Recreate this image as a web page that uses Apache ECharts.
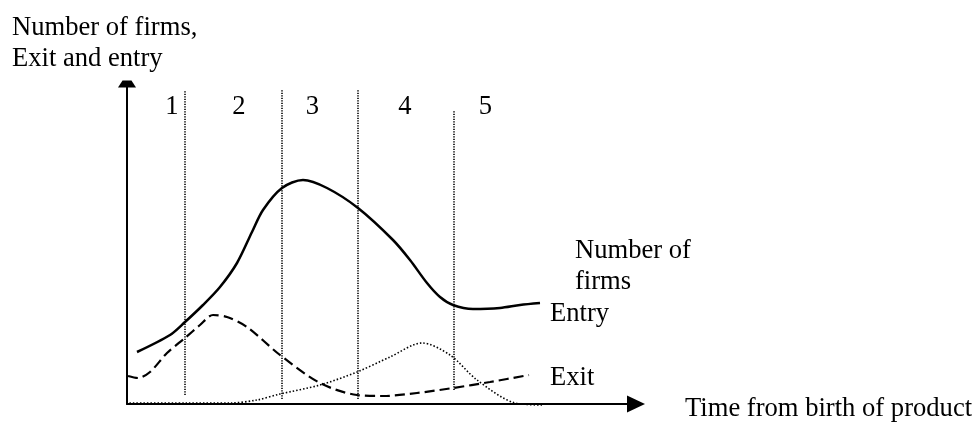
<!DOCTYPE html>
<html>
<head>
<meta charset="utf-8">
<script src="https://cdn.jsdelivr.net/npm/echarts@6/dist/echarts.min.js"></script>
<style>
  html, body { margin: 0; padding: 0; background: #fff; }
  #chart { width: 978px; height: 424px; }
</style>
</head>
<body>
<div id="chart"></div>
<script>
// values (arbitrary units: time along x, count along y)
var firmsCurve = [[10,52],[43,69],[58,82],[76,99],[93,117],[110,141],[125,172],[136,194],[155,216],[176,224],[200,216],[231,196],[266,164],[283,144],[300,121],[313,107],[326,99],[346,95],[373,96],[393,99],[413,101]];
var exitCurve = [[1,28],[11,26],[23,32],[40,51],[58,66],[73,79],[86,89],[100,87],[120,77],[153,49],[193,21],[230,9],[256,8],[290,11],[326,16],[363,22],[402,29]];
var entryCurve = [[-15,1],[60,1],[103,1],[130,4],[153,10],[193,19],[230,32],[263,47],[295,61],[323,49],[350,24],[388,1],[416,-1]];

var stageBounds = [58, 155, 231, 327];
var stageTop = [314, 314, 314, 294];
var stageBottom = [9, 5, 5, 14];
var stageNames = ['1', '2', '3', '4', '5'];
var stageLabelX = [45.5, 112.5, 186, 278.5, 359];
var stageLabelY = 296;

var serif = '"Liberation Serif", "DejaVu Serif", serif';
var fontPx = 26.6;

var chartDom = document.getElementById('chart');
var myChart = echarts.init(chartDom);

var boundLines = stageBounds.map(function (x, i) {
  return [{ coord: [x, stageBottom[i]] }, { coord: [x, stageTop[i]] }];
});

var option = {
  animation: false,
  title: {
    text: 'Number of firms,\nExit and entry',
    left: 12,
    top: 13,
    padding: 0,
    textStyle: {
      fontFamily: serif,
      fontSize: fontPx,
      lineHeight: 31,
      fontWeight: 'normal',
      color: '#000'
    }
  },
  grid: { left: 127, right: 342, top: 84, bottom: 20 },
  xAxis: {
    type: 'value',
    min: 0,
    max: 509,
    axisLine: {
      show: true,
      symbol: ['none', 'triangle'],
      symbolSize: [17, 18],
      lineStyle: { color: '#000', width: 2 }
    },
    axisTick: { show: false },
    axisLabel: { show: false },
    splitLine: { show: false }
  },
  yAxis: {
    type: 'value',
    min: 0,
    max: 320,
    axisLine: {
      show: true,
      symbol: ['none', 'path://M4.5,0L13.5,0L18,7L0,7Z'],
      symbolSize: [18, 7],
      lineStyle: { color: '#000', width: 2 }
    },
    axisTick: { show: false },
    axisLabel: { show: false },
    splitLine: { show: false }
  },
  graphic: [
    { type: 'text', left: 575, top: 236, style: { text: 'Number of\nfirms', font: fontPx + 'px ' + serif, lineHeight: 31, fill: '#000' } },
    { type: 'text', left: 550, top: 301, style: { text: 'Entry', font: fontPx + 'px ' + serif, fill: '#000' } },
    { type: 'text', left: 550, top: 365, style: { text: 'Exit', font: fontPx + 'px ' + serif, fill: '#000' } },
    { type: 'text', left: 685, top: 396, style: { text: 'Time from birth of product', font: fontPx + 'px ' + serif, fill: '#000' } }
  ],
  series: [
    {
      name: 'Number of firms',
      type: 'line',
      data: firmsCurve,
      smooth: 0.3,
      showSymbol: false,
      clip: false,
      lineStyle: { color: '#000', width: 2.5 },
      markLine: {
        silent: true,
        symbol: ['none', 'none'],
        label: { show: false },
        lineStyle: { color: '#000', width: 1.6, type: [1.2, 1.3] },
        data: boundLines
      }
    },
    {
      name: 'Exit',
      type: 'line',
      data: exitCurve,
      smooth: 0.3,
      showSymbol: false,
      clip: false,
      lineStyle: { color: '#000', width: 2.2, type: [10, 5] }
    },
    {
      name: 'Entry',
      type: 'line',
      data: entryCurve,
      smooth: 0.3,
      showSymbol: false,
      clip: false,
      lineStyle: { color: '#000', width: 1.6, type: [1.5, 2] }
    },
    {
      name: 'Stages',
      type: 'scatter',
      symbolSize: 1,
      itemStyle: { color: '#fff', opacity: 0 },
      emphasis: { disabled: true },
      data: stageNames.map(function (n, i) { return { name: n, value: [stageLabelX[i], stageLabelY] }; }),
      label: {
        show: true,
        position: [0, 0],
        align: 'center',
        verticalAlign: 'middle',
        formatter: '{b}',
        fontFamily: serif,
        fontSize: fontPx,
        color: '#000',
        opacity: 1
      }
    }
  ]
};

option && myChart.setOption(option);
</script>
</body>
</html>
